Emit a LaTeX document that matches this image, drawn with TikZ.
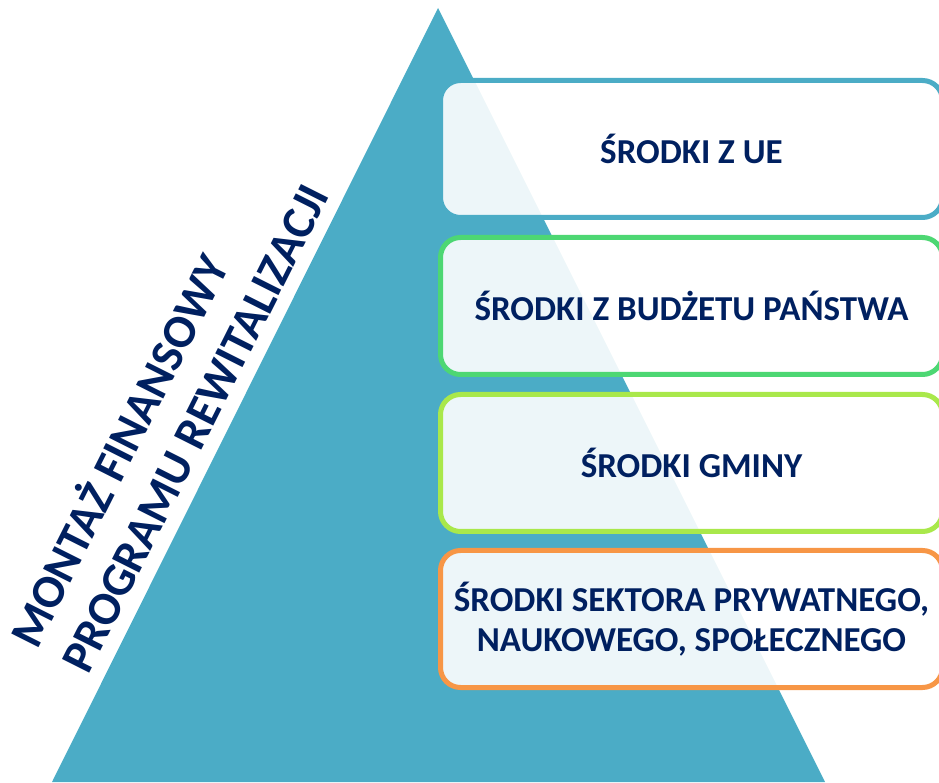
\documentclass[tikz,border=0pt]{standalone}
\usepackage{fontspec}
\setmainfont{Carlito}
\usetikzlibrary{positioning}
\definecolor{pyramid}{HTML}{4BACC6}
\definecolor{navy}{HTML}{002060}
\definecolor{euline}{HTML}{4BACC6}
\definecolor{stateline}{HTML}{4DD773}
\definecolor{gminaline}{HTML}{A9E84B}
\definecolor{privline}{HTML}{F79646}
\tikzset{
  source/.style={draw=#1, line width=5pt, rounded corners=20pt, fill=white,
    fill opacity=0.9, text opacity=1, minimum width=502pt, minimum height=137pt,
    text=navy, font=\fontsize{35}{40}\selectfont\bfseries, align=center},
  title/.style={rotate=63.3, anchor=base west, inner sep=0, align=left,
    text=navy, font=\fontsize{47}{57}\selectfont\bfseries}
}
\begin{document}
\begin{tikzpicture}[x=1pt,y=1pt]
\useasboundingbox (0,0) rectangle (939,782);
\clip (0,0) rectangle (939,782);
%\draw[step=50,gray,very thin] (0,0) grid (939,782);
\fill[pyramid] (52,0) -- (438,774) -- (825,0) -- cycle;
\node[title] (montaz) at (88,106) {MONTAŻ FINANSOWY\\PROGRAMU REWITALIZACJI};
% funding sources
\node[source=euline] (ue) at (691.5,633) {ŚRODKI Z UE};
\node[source=stateline, below=15pt of ue] (budzet) {ŚRODKI Z BUDŻETU PAŃSTWA};
\node[source=gminaline, below=15pt of budzet] (gmina) {ŚRODKI GMINY};
\node[source=privline, below=14pt of gmina] (prywatne) {ŚRODKI SEKTORA PRYWATNEGO,\\NAUKOWEGO, SPOŁECZNEGO};
\end{tikzpicture}
\end{document}
